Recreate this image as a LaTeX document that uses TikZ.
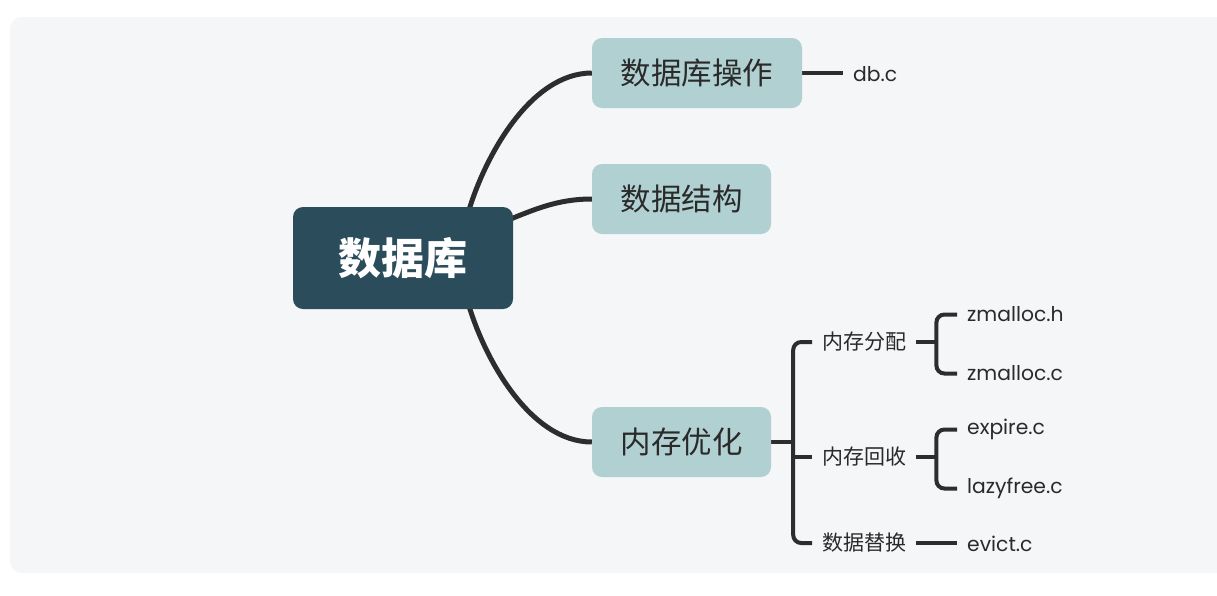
\documentclass[tikz,border=0pt]{standalone}
\usepackage{fontspec}
\setmainfont{Poppins}
\newfontfamily\cjk{Noto Sans CJK SC}
\usetikzlibrary{calc}
\pgfdeclarelayer{bg}
\pgfdeclarelayer{lines}
\pgfsetlayers{bg,lines,main}
\definecolor{bgc}{HTML}{F4F6F8}
\definecolor{rootc}{HTML}{2B4D5B}
\definecolor{subc}{HTML}{B1D0D1}
\definecolor{linec}{HTML}{2D2D2D}
\definecolor{txtc}{HTML}{2A2A2A}
\tikzset{
  rootbox/.style={fill=rootc, rounded corners=10pt, minimum width=220pt, minimum height=102pt,
    inner sep=0pt, text=white, font=\cjk\fontsize{43}{43}\selectfont\bfseries},
  subbox/.style={fill=subc, rounded corners=10pt, minimum height=70pt,
    inner sep=0pt, text=txtc, font=\cjk\fontsize{30.5}{30.5}\selectfont},
  midtxt/.style={inner xsep=10pt, inner ysep=0pt, anchor=west, text=txtc, font=\cjk\fontsize{21}{21}\selectfont},
  leaftxt/.style={inner xsep=10pt, inner ysep=0pt, anchor=west, text=txtc, font=\fontsize{20.3}{20.3}\selectfont},
  curve/.style={draw=linec, line width=5pt},
  bline/.style={draw=linec, line width=4pt},
}
\begin{document}
\begin{tikzpicture}[x=1pt,y=-1pt]
\useasboundingbox (0,0) rectangle (1217,595);
\begin{pgfonlayer}{bg}
  \fill[white] (0,0) rectangle (1217,595);
  \fill[bgc, rounded corners=12pt] (10,17) rectangle (1240,573);
\end{pgfonlayer}

\node[rootbox] (root) at (403,258) {数据库};
\node[subbox, minimum width=210pt] (op) at (697,73) {数据库操作};
\node[subbox, minimum width=179pt] (ds) at (681.5,199) {数据结构};
\node[subbox, minimum width=179pt] (mem) at (681.5,442) {内存优化};

\node[leaftxt] (dbc) at (843,74) {db.c};

\node[midtxt] (alloc) at (812,342) {内存分配};
\node[midtxt] (gc) at (812,457) {内存回收};
\node[midtxt] (repl) at (812,543) {数据替换};

\node[leaftxt] (zh) at (957,314.5) {zmalloc.h};
\node[leaftxt] (zc) at (957,373.5) {zmalloc.c};
\node[leaftxt] (ex) at (957,429.5) {expire.c};
\node[leaftxt] (lz) at (957,488.5) {lazyfree.c};
\node[leaftxt] (ev) at (957,543.5) {evict.c};

\begin{pgfonlayer}{lines}
  \draw[curve] ([xshift=64pt,yshift=-10pt]root.north) .. controls ([xshift=80pt,yshift=48pt]root.north) and ([xshift=-62pt]op.west) .. (op.west);
  \draw[curve] ([xshift=-10pt,yshift=36pt]root.east) .. controls ([xshift=20pt,yshift=48pt]root.east) and ([xshift=-35pt]ds.west) .. (ds.west);
  \draw[curve] ([xshift=64pt,yshift=10pt]root.south) .. controls ([xshift=80pt,yshift=-48pt]root.south) and ([xshift=-62pt]mem.west) .. (mem.west);

  \draw[bline] (op.east) -- (op.east -| dbc.west);

  \draw[bline] (mem.east) -- ++(22,0) coordinate (b1);
  \draw[bline, rounded corners=8pt] (alloc.west) -| (b1) |- (repl.west);
  \draw[bline] (gc.west) -- (gc.west -| b1);

  \draw[bline] (alloc.east) -- ++(20,0) coordinate (c1);
  \draw[bline, rounded corners=8pt] (zh.west) -| (c1) |- (zc.west);

  \draw[bline] (gc.east) -- ++(20,0) coordinate (c2);
  \draw[bline, rounded corners=8pt] (ex.west) -| (c2) |- (lz.west);

  \draw[bline] (repl.east) -- (repl.east -| ev.west);
\end{pgfonlayer}
\end{tikzpicture}
\end{document}
